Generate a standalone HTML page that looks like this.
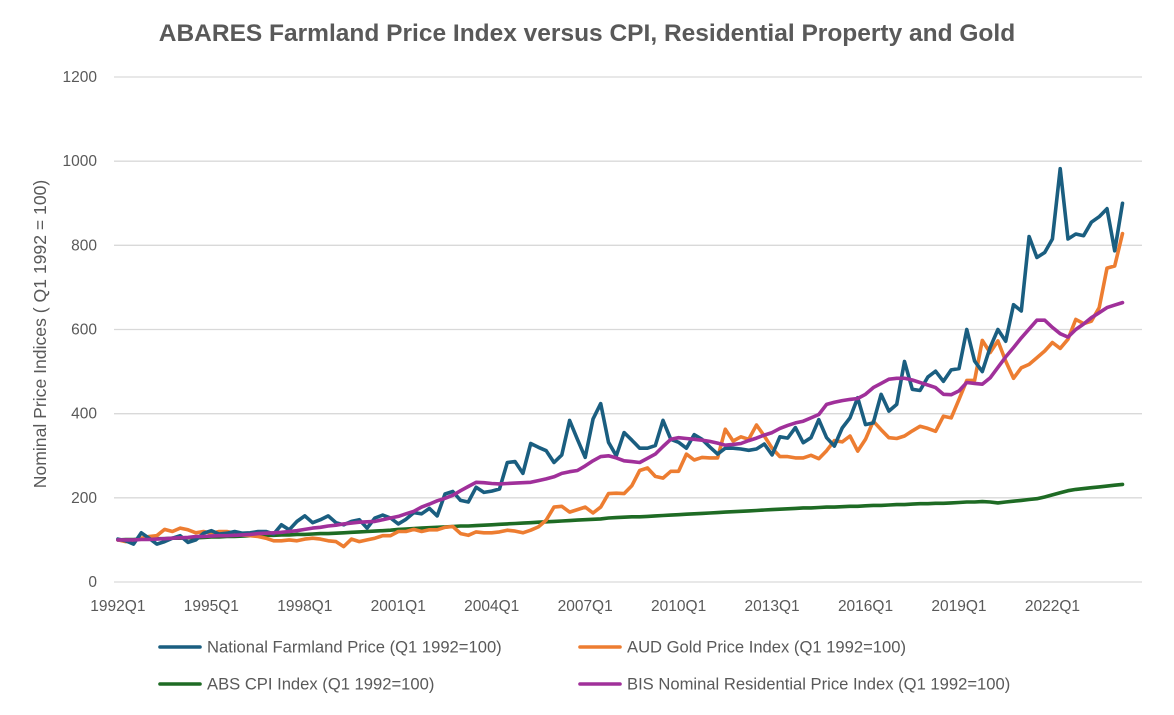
<!DOCTYPE html>
<html><head><meta charset="utf-8"><style>
body{margin:0;background:#fff;}
svg text{font-family:"Liberation Sans",sans-serif;fill:#595959;}
</style></head><body>
<svg id="chart" width="1174" height="710" viewBox="0 0 1174 710" xmlns="http://www.w3.org/2000/svg">
<rect width="1174" height="710" fill="#fff"/>
<text x="587" y="41" text-anchor="middle" font-size="24.5" font-weight="bold">ABARES Farmland Price Index versus CPI, Residential Property and Gold</text>
<text transform="translate(46,334) rotate(-90)" text-anchor="middle" font-size="17.6">Nominal Price Indices ( Q1 1992 = 100)</text>
<g id="grid"></g><g id="yticks"></g><g id="xticks"></g><g id="series"></g><g id="legend"></g>
</svg>
<script>
const yTicks=[0,200,400,600,800,1000,1200];
const farmland=[102,98,90,117,104,90,96,104,110,94,100,116,122,114,116,120,116,117,120,120,114,136,124,144,157,141,148,157,141,136,144,148,128,152,159,152,138,149,165,162,175,157,209,215,
194,190,225,213,216,221,284,286,258,329,320,312,284,302,384,339,296,387,424,332,300,355,337,318,318,324,384,339,332,318,350,339,321,304,318,318,316,313,316,328,302,345,342,367,
331,343,386,343,323,366,390,438,374,378,446,406,422,524,458,455,487,501,477,504,507,600,525,500,557,600,572,659,644,821,771,783,815,982,815,827,823,855,868,887,787,900];
const gold=[100,96,98,104,108,110,125,120,128,124,117,120,116,120,120,116,112,110,108,104,98,98,100,98,102,104,102,98,96,84,102,96,100,104,110,110,120,120,125,120,124,124,130,132,
115,111,119,117,117,119,123,121,117,123,131,147,178,180,166,172,178,164,178,210,211,210,229,265,271,251,247,263,263,304,290,296,295,295,363,335,345,339,373,347,318,298,298,295,
295,301,293,312,336,333,347,311,339,382,362,343,341,347,359,370,365,358,394,390,434,479,479,574,545,573,525,484,509,517,533,549,569,555,577,624,614,620,652,746,751,828];
const cpi=[100,101,101,102,102,103,103,104,104,105,105,106,107,107,108,108,109,110,110,111,111,112,112,113,113,114,115,115,116,117,118,119,120,121,122,123,125,126,127,128,
129,130,131,132,133,133,134,135,136,137,138,139,140,141,142,143,144,145,146,147,148,149,150,152,153,154,155,155,156,157,158,159,160,161,162,163,164,165,166,167,
168,169,170,171,172,173,174,175,176,176,177,178,178,179,180,180,181,182,182,183,184,184,185,186,186,187,187,188,189,190,190,191,190,188,190,192,194,196,198,202,
207,212,217,220,222,224,226,228,230,232];
const residential=[100,100,100,101,101,102,103,104,105,106,108,108,109,110,110,111,112,113,115,116,117,118,120,122,125,128,130,133,135,138,140,142,143,144,148,152,156,162,168,178,
185,193,199,206,217,227,237,236,234,233,234,235,236,237,241,245,250,258,262,265,276,288,298,300,295,288,286,284,294,304,322,339,343,341,339,337,334,330,325,327,
329,336,342,349,355,365,372,378,382,390,398,422,427,431,434,436,446,462,472,482,484,484,480,474,468,462,446,445,454,474,472,470,485,510,535,557,580,601,622,622,
605,590,582,600,613,628,640,652,658,664];
const seriesNames=["National Farmland Price (Q1 1992=100)","AUD Gold Price Index (Q1 1992=100)","ABS CPI Index (Q1 1992=100)","BIS Nominal Residential Price Index (Q1 1992=100)"];
const seriesColors=["#1a5e80","#ed7d31","#1e6b24","#a0309a"];
const nCats=132;
const categories=[];for(let i=0;i<nCats;i++){categories.push((1992+Math.floor(i/4))+"Q"+(i%4+1));}
const plotL=114,plotR=1142,y0=582,yTop=77;
const dx=(plotR-plotL)/nCats;
const X=i=>plotL+dx*(i+0.5);
const Y=v=>y0-(v/1200)*(y0-yTop);
const NS="http://www.w3.org/2000/svg";
function mk(tag,attrs,parent){const e=document.createElementNS(NS,tag);for(const k in attrs)e.setAttribute(k,attrs[k]);parent.appendChild(e);return e;}
const grid=document.getElementById('grid'),yt=document.getElementById('yticks'),xt=document.getElementById('xticks');
yTicks.forEach(v=>{
  const l=mk('line',{x1:plotL,x2:plotR,y1:Y(v),y2:Y(v),stroke:'#d9d9d9','stroke-width':1.3},grid);
  
  
  const t=mk('text',{x:97,y:Y(v)+5,'text-anchor':'end','font-size':15.5},yt);
  t.textContent=v;
  
  
});
for(let i=0;i<nCats;i+=12){
  const t=mk('text',{x:X(i),y:611,'text-anchor':'middle','font-size':15.5},xt);
  t.textContent=categories[i];
  
  
}
const sg=document.getElementById('series');
const allSeries=[farmland,gold,cpi,residential];
const order=[2,1,0,3];
const keys=['farmland','gold','cpi','residential'];
order.forEach(s=>{
  const d=allSeries[s].map((v,i)=>(i?'L':'M')+X(i).toFixed(1)+' '+Y(v).toFixed(1)).join(' ');
  const p=mk('path',{d:d,fill:'none',stroke:seriesColors[s],'stroke-width':3.6,'stroke-linejoin':'round','stroke-linecap':'round'},sg);
  
  
});
const lg=document.getElementById('legend');
const pos=[[160,647],[580,647],[160,684],[580,684]];
seriesNames.forEach((n,s)=>{
  const g=mk('g',{},lg);
  
  
  mk('line',{x1:pos[s][0],x2:pos[s][0]+40,y1:pos[s][1],y2:pos[s][1],stroke:seriesColors[s],'stroke-width':3.6,'stroke-linecap':'round'},g);
  const t=mk('text',{x:pos[s][0]+47,y:pos[s][1]+5.5,'font-size':16.6},g);
  t.textContent=n;
});
</script>
</body></html>
